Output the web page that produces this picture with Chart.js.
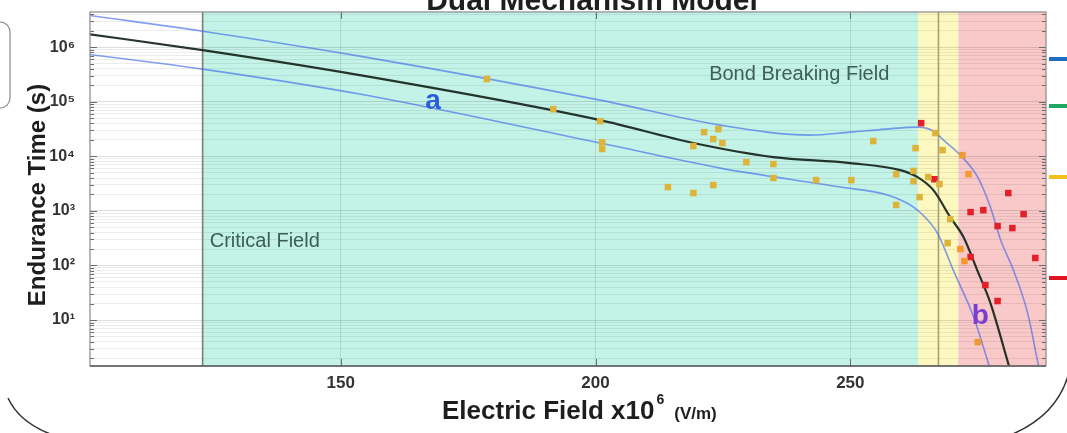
<!DOCTYPE html>
<html>
<head>
<meta charset="utf-8">
<script src="https://cdn.jsdelivr.net/npm/chart.js@4.4.1/dist/chart.umd.min.js"></script>
<style>
  html, body { margin: 0; padding: 0; background: #fff; }
  #wrap { width: 1067px; height: 433px; position: relative; }
</style>
</head>
<body>
<div id="wrap"><canvas id="endurance-chart" width="1067" height="433"></canvas></div>
<script>
const FONT = '"Liberation Sans", Arial, Helvetica, sans-serif';

// axis ranges (field in x10^6 V/m, time in s)
const fieldMin = 100.8, fieldMax = 288.4;
const timeMin = 1.44, timeMax = 4.4e6;

// model fit and its two bounds
const midField = [100.8, 122.9, 153.7, 200.9, 219.2, 234.9, 250.0, 259.8, 263.2, 266.3, 269.6, 272.2, 274.9, 277.5, 280.8, 281.6];
const midTime  = [1.72e6, 8.81e5, 3.07e5, 4.60e4, 1.75e4, 9.66e3, 7.50e3, 5.58e3, 4.16e3, 2.40e3, 769, 331, 82.4, 20.5, 1.85, 1.0];

const upperField = [100.8, 122.9, 153.7, 200.9, 224.5, 242.1, 250.0, 257.0, 263.2, 266.3, 268.3, 271.6, 275.0, 277.5, 279.5, 282.0, 284.8, 286.7, 287.3];
const upperTime  = [3.80e6, 1.96e6, 6.84e5, 1.07e5, 3.72e4, 2.44e4, 2.77e4, 3.15e4, 3.43e4, 2.90e4, 1.98e4, 1.05e4, 4.16e3, 1.17e3, 292, 82.4, 13.4, 1.85, 1.0];

const lowerField = [100.8, 122.9, 153.7, 200.9, 224.5, 248.1, 257.3, 262.4, 265.7, 267.3, 270.2, 274.2, 276.9, 277.8];
const lowerTime  = [7.33e5, 3.95e5, 1.38e5, 1.75e4, 6.08e3, 2.73e3, 1.95e3, 1.17e3, 598, 361, 82.4, 11.4, 1.85, 1.0];

// measured samples
const yellowField = [178.7, 191.7, 200.9, 201.3, 201.3, 221.3, 224.1, 223.1, 224.9, 219.2, 229.6, 234.9, 234.9, 243.3, 214.2, 219.2, 223.1, 250.2, 254.5, 259.0, 262.4, 262.4, 263.6, 259.0, 262.8, 266.7, 268.1, 265.3, 267.5, 269.6, 269.1];
const yellowTime  = [2.6e5, 7.3e4, 4.4e4, 1.8e4, 1.36e4, 2.77e4, 3.15e4, 2.07e4, 1.75e4, 1.54e4, 7.8e3, 7.2e3, 4.0e3, 3.66e3, 2.73e3, 2.12e3, 2.97e3, 3.66e3, 1.9e4, 4.7e3, 5.4e3, 3.5e3, 1.79e3, 1.28e3, 1.41e4, 2.66e4, 1.3e4, 4.16e3, 3.1e3, 708, 257];

const orangeField = [272.0, 273.2, 271.6, 272.4, 275.0];
const orangeTime  = [1.05e4, 4.7e3, 200, 120, 3.95];

const redField = [263.9, 266.5, 281.0, 273.6, 276.1, 284.0, 278.9, 281.8, 273.6, 276.5, 278.9, 286.3];
const redTime  = [4.05e4, 3.8e3, 2.12e3, 950, 1.03e3, 873, 527, 484, 143, 43.7, 22.3, 137];

// field regions: none / critical / transition / bond breaking
const regionEdges  = [100.8, 122.9, 263.3, 271.2, 288.4];
const regionColors = ['#ffffff', '#c3f2e6', '#fcf8c0', '#f9c8c8'];
const markerLines  = [122.9, 267.3];

// ticks
const xTicks = [150, 200, 250];
const yTickValues = [10, 100, 1e3, 1e4, 1e5, 1e6];
const yTickLabels = ['10\u00b9', '10\u00b2', '10\u00b3', '10\u2074', '10\u2075', '10\u2076'];

// text in the plot
const noteText  = ['Critical Field', 'Bond Breaking Field'];
const noteField = [124.3, 222.3];
const noteTime  = [280, 3.2e5];
const tagText   = ['a', 'b'];
const tagField  = [168.1, 275.5];
const tagTime   = [1.03e5, 11.8];
const tagColors = ['#2b5fd9', '#7a3fd0'];

const pts = (xs, ys) => xs.map((v, i) => ({ x: v, y: ys[i] }));

// grid lines at 1..9 x 10^n
const yGrid = [];
for (let e = 0; e <= 6; e++) {
  for (let m = 1; m <= 9; m++) {
    const v = m * Math.pow(10, e);
    if (v > timeMin && v < timeMax) yGrid.push(v);
  }
}

const decorations = {
  id: 'decorations',
  beforeDraw(chart) {
    const { ctx, chartArea: a, scales: { x } } = chart;
    ctx.save();
    for (let i = 0; i < regionColors.length; i++) {
      const x0 = x.getPixelForValue(regionEdges[i]);
      const x1 = x.getPixelForValue(regionEdges[i + 1]);
      ctx.fillStyle = regionColors[i];
      ctx.fillRect(x0, a.top, x1 - x0, a.bottom - a.top);
    }
    ctx.restore();
  },
  beforeDatasetsDraw(chart) {
    const { ctx, chartArea: a, scales: { x } } = chart;
    ctx.save();
    ctx.lineWidth = 1.6;
    markerLines.forEach((f, i) => {
      const px = x.getPixelForValue(f);
      ctx.strokeStyle = i === 0 ? '#7d7d7d' : '#a3a27a';
      ctx.beginPath();
      ctx.moveTo(px, a.top);
      ctx.lineTo(px, a.bottom);
      ctx.stroke();
    });
    ctx.restore();
  },
  afterDatasetsDraw(chart) {
    const { ctx, scales: { x, y } } = chart;
    ctx.save();
    ctx.textBaseline = 'middle';
    ctx.textAlign = 'left';
    ctx.fillStyle = '#3d5e58';
    ctx.font = '20px ' + FONT;
    noteText.forEach((t, i) => {
      ctx.fillText(t, x.getPixelForValue(noteField[i]), y.getPixelForValue(noteTime[i]));
    });
    ctx.textAlign = 'center';
    ctx.font = 'bold 28px ' + FONT;
    tagText.forEach((t, i) => {
      ctx.fillStyle = tagColors[i];
      ctx.fillText(t, x.getPixelForValue(tagField[i]), y.getPixelForValue(tagTime[i]));
    });
    ctx.restore();
  },
  afterDraw(chart) {
    const { ctx, chartArea: a, scales: { x, y } } = chart;
    ctx.save();

    // inside tick marks, matlab style
    ctx.strokeStyle = '#6a6a6a';
    ctx.lineWidth = 1;
    y.ticks.forEach(t => {
      const py = Math.round(y.getPixelForValue(t.value)) + 0.5;
      const len = yTickValues.includes(t.value) ? 7 : 4;
      ctx.beginPath();
      ctx.moveTo(a.left, py); ctx.lineTo(a.left + len, py);
      ctx.moveTo(a.right, py); ctx.lineTo(a.right - len, py);
      ctx.stroke();
    });
    x.ticks.forEach(t => {
      const px = Math.round(x.getPixelForValue(t.value)) + 0.5;
      ctx.beginPath();
      ctx.moveTo(px, a.bottom); ctx.lineTo(px, a.bottom - 7);
      ctx.moveTo(px, a.top); ctx.lineTo(px, a.top + 7);
      ctx.stroke();
    });

    // frame
    ctx.strokeStyle = '#8a8a8a';
    ctx.lineWidth = 1.2;
    ctx.strokeRect(a.left, a.top, a.right - a.left, a.bottom - a.top);
    ctx.strokeStyle = '#5e5e5e';
    ctx.lineWidth = 1.6;
    ctx.beginPath();
    ctx.moveTo(a.left, a.bottom); ctx.lineTo(a.right, a.bottom);
    ctx.stroke();

    // title, cut by the top of the picture
    ctx.fillStyle = '#1e1e1e';
    ctx.textAlign = 'center';
    ctx.textBaseline = 'alphabetic';
    ctx.font = 'bold 30px ' + FONT;
    ctx.fillText('Dual Mechanism Model', 592, 10);

    // x title with superscript
    ctx.textAlign = 'left';
    ctx.font = 'bold 26px ' + FONT;
    let cx = 442;
    ctx.fillText('Electric Field x10', cx, 419);
    cx += ctx.measureText('Electric Field x10').width + 2;
    ctx.font = 'bold 14px ' + FONT;
    ctx.fillText('6', cx, 404);
    cx += ctx.measureText('6').width + 10;
    ctx.font = 'bold 17px ' + FONT;
    ctx.fillText('(V/m)', cx, 419);

    // y title
    ctx.save();
    ctx.translate(38, 195);
    ctx.rotate(-Math.PI / 2);
    ctx.textAlign = 'center';
    ctx.textBaseline = 'middle';
    ctx.font = 'bold 24px ' + FONT;
    ctx.fillText('Endurance Time (s)', 0, 0);
    ctx.restore();

    // legend swatches cut off at the right edge
    [['#1f6fc0', 59], ['#1fa860', 106], ['#f2c01c', 177], ['#e0141e', 278]].forEach(([c, py]) => {
      ctx.strokeStyle = c;
      ctx.lineWidth = 4;
      ctx.beginPath();
      ctx.moveTo(1049, py); ctx.lineTo(1067, py);
      ctx.stroke();
    });

    // slide frame pieces
    ctx.strokeStyle = '#8c8c8c';
    ctx.lineWidth = 1.2;
    ctx.fillStyle = '#ffffff';
    ctx.beginPath();
    ctx.roundRect(-14, 22, 24, 86, 10);
    ctx.fill();
    ctx.stroke();
    ctx.strokeStyle = '#333';
    ctx.lineWidth = 1.5;
    ctx.beginPath();
    ctx.moveTo(8, 398); ctx.quadraticCurveTo(20, 424, 56, 436);
    ctx.moveTo(1069, 372); ctx.quadraticCurveTo(1058, 416, 1008, 436);
    ctx.stroke();

    ctx.restore();
  }
};

const lineStyle = { showLine: true, pointRadius: 0, cubicInterpolationMode: 'monotone', order: 1, fill: false };
const dotStyle = { showLine: false, pointStyle: 'rect', pointRadius: 4.6, pointBorderWidth: 0, order: 0 };

new Chart(document.getElementById('endurance-chart'), {
  type: 'scatter',
  data: {
    datasets: [
      { ...lineStyle, label: 'Upper bound', data: pts(upperField, upperTime), borderColor: 'rgba(60,100,235,0.62)', borderWidth: 1.6 },
      { ...lineStyle, label: 'Lower bound', data: pts(lowerField, lowerTime), borderColor: 'rgba(60,100,235,0.62)', borderWidth: 1.6 },
      { ...lineStyle, label: 'Dual mechanism model', data: pts(midField, midTime), borderColor: 'rgba(22,36,26,0.92)', borderWidth: 2.2 },
      { ...dotStyle, label: 'Critical', data: pts(yellowField, yellowTime), backgroundColor: '#ddb33a' },
      { ...dotStyle, label: 'Transition', data: pts(orangeField, orangeTime), backgroundColor: '#f29a30' },
      { ...dotStyle, label: 'Bond breaking', data: pts(redField, redTime), backgroundColor: '#e2202a' }
    ]
  },
  options: {
    responsive: false,
    animation: false,
    devicePixelRatio: 1,
    layout: { padding: { left: 0, right: 21, top: 12, bottom: 0 } },
    plugins: { legend: { display: false }, tooltip: { enabled: false } },
    scales: {
      x: {
        type: 'linear',
        min: fieldMin,
        max: fieldMax,
        afterBuildTicks: s => { s.ticks = xTicks.map(v => ({ value: v })); },
        afterFit: s => { s.height = 67; s.paddingLeft = 0; s.paddingRight = 0; },
        border: { display: false },
        grid: { color: 'rgba(70,110,130,0.18)', drawTicks: false },
        ticks: { padding: 7, color: '#333', font: { family: FONT, size: 17, weight: 'bold' } }
      },
      y: {
        type: 'logarithmic',
        min: timeMin,
        max: timeMax,
        afterBuildTicks: s => { s.ticks = yGrid.map(v => ({ value: v, major: yTickValues.includes(v) })); },
        afterFit: s => { s.width = 90; s.paddingTop = 0; s.paddingBottom = 0; },
        border: { display: false },
        grid: {
          drawTicks: false,
          color: c => yTickValues.includes(c.tick.value) ? 'rgba(0,0,0,0.13)' : 'rgba(0,0,0,0.07)'
        },
        ticks: {
          autoSkip: false,
          padding: 15,
          color: '#333',
          font: { family: FONT, size: 16, weight: 'bold' },
          callback: v => {
            const i = yTickValues.indexOf(v);
            return i >= 0 ? yTickLabels[i] : '';
          }
        }
      }
    }
  },
  plugins: [decorations]
});
</script>
</body>
</html>
